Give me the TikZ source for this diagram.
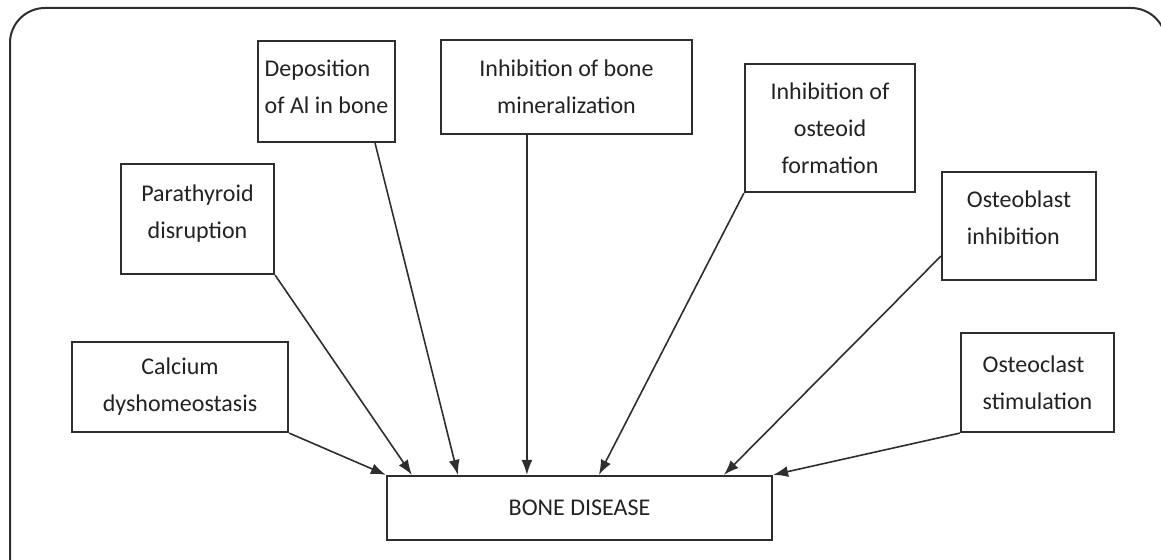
\documentclass[tikz,border=0pt]{standalone}
\usepackage{fontspec}
\setmainfont{Carlito}
\usetikzlibrary{arrows.meta}
\definecolor{boxgray}{HTML}{2E2E2E}
\definecolor{txtgray}{HTML}{222222}
\tikzset{
  box/.style={draw=boxgray, line width=1.1pt, rectangle, text=txtgray,
    font=\fontsize{12}{18.5}\selectfont},
  cbox/.style={box, align=center},
  lbox/.style={box, align=left},
  link/.style={->, line width=0.8pt, draw=boxgray}
}
\begin{document}
\begin{tikzpicture}[x=0.5pt, y=-0.5pt, >={Latex[length=7.5pt,width=5.5pt]}]
  \useasboundingbox (0,0) rectangle (1161,560);
  % outer frame, cut at the right edge
  \begin{scope}
    \clip (0,0) rectangle (1161,560);
    \draw[boxgray, line width=1pt, rounded corners=17.5pt] (10,570) -- (10,8) -- (1166,8) -- (1166,60);
  \end{scope}
  % causes
  \node[cbox, minimum width=108pt, minimum height=45pt] (calc) at (180,387) {Calcium\\dyshomeostasis};
  \node[cbox, minimum width=76.5pt, minimum height=55pt] (para) at (197.5,219) {Parathyroid\\disruption\rule[-7.5pt]{0pt}{0pt}};
  \node[lbox, minimum width=66.5pt, minimum height=50.5pt] (depo) at (326.5,91.5) {Deposition\\of Al in bone\rule[-5pt]{0pt}{0pt}};
  \node[cbox, minimum width=125.5pt, minimum height=47pt] (mine) at (566.5,87) {Inhibition of bone\\mineralization};
  \node[cbox, minimum width=85pt, minimum height=64pt] (oste) at (830,128) {Inhibition of\\osteoid\\formation};
  \node[lbox, minimum width=77pt, minimum height=54pt] (blast) at (1019,226) {Osteoblast\\inhibition\rule[-8pt]{0pt}{0pt}};
  \node[lbox, minimum width=76.5pt, minimum height=49.5pt] (clast) at (1037.5,382.5) {Osteoclast\\stimulation};
  % effect
  \node[cbox, minimum width=192.5pt, minimum height=32pt] (bone) at (579.5,508) {BONE DISEASE};
  % arrows
  \draw[link] (calc.south east) -- (bone.north west);
  \draw[link] (para.south east) -- ([xshift=13pt]bone.north west);
  \draw[link] ([xshift=-10.5pt]depo.south east) -- ([xshift=36pt]bone.north west);
  \draw[link] ([xshift=43.5pt]mine.south west) -- ([xshift=70.5pt]bone.north west);
  \draw[link] (oste.south west) -- ([xshift=106.5pt]bone.north west);
  \draw[link] ([yshift=12.5pt]blast.south west) -- ([xshift=169pt]bone.north west);
  \draw[link] (clast.south west) -- (bone.north east);
\end{tikzpicture}
\end{document}
